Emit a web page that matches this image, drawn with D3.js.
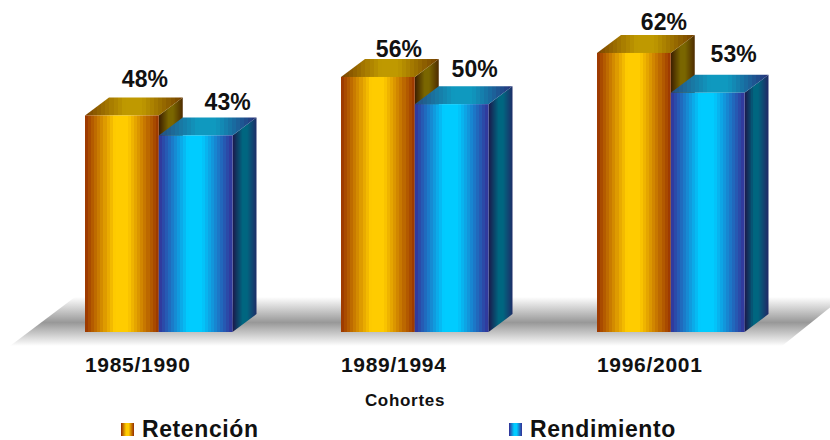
<!DOCTYPE html>
<html>
<head>
<meta charset="utf-8">
<script src="https://cdn.jsdelivr.net/npm/d3@7"></script>
<style>
  html, body { margin: 0; background: #fff; }
  text { font-family: "Liberation Sans", Arial, sans-serif; font-weight: bold; fill: #111; }
</style>
</head>
<body>
<div id="chart"></div>
<script>
const categories = ['1985/1990', '1989/1994', '1996/2001']
const seriesNames = ['Retención', 'Rendimiento']
const retencion = [47.8, 56.3, 61.6]
const rendimiento = [43.4, 50.3, 52.8]

const WIDTH = 830
const HEIGHT = 440
const BASE_Y = 332
const DEPTH = { X: 24, Y: 18 }

const svg = d3.select('#chart').append('svg')
    .attr('width', WIDTH)
    .attr('height', HEIGHT)
    .style('display', 'block')

const defs = svg.append('defs')

// banded gradient, the reference has visible colour steps
function bandedGradient(id, edgeLeft, mid, edgeRight) {
    const grad = defs.append('linearGradient').attr('id', id)
    const steps = 24
    const colorAt = d3.scaleLinear().domain([0, 0.4, 0.58, 1]).range([edgeLeft, mid, mid, edgeRight])
        .interpolate(d3.interpolateRgb)
    for (let i = 0; i < steps; i++) {
        const c = colorAt((i + 0.5) / steps)
        grad.append('stop').attr('offset', i / steps).attr('stop-color', c)
        grad.append('stop').attr('offset', (i + 1) / steps).attr('stop-color', c)
    }
}

bandedGradient('orangeFront', '#993300', '#ffcc00', '#993300')
bandedGradient('orangeTop', '#7a4400', '#bf9900', '#734000')
bandedGradient('orangeSide', '#3d1f00', '#7a6600', '#4d2a00')
bandedGradient('blueFront', '#333399', '#00ccff', '#333399')
bandedGradient('blueTop', '#264d80', '#0f99bf', '#26337a')
bandedGradient('blueSide', '#1a1a4d', '#006680', '#1f2a66')

const floorGrad = defs.append('linearGradient')
    .attr('id', 'floor')
    .attr('x1', 0).attr('x2', 0).attr('y1', 0).attr('y2', 1)
floorGrad.selectAll('stop')
    .data([[0, '#ffffff'], [0.52, '#989898'], [1, '#ffffff']])
    .join('stop')
    .attr('offset', d => d[0])
    .attr('stop-color', d => d[1])

// floor
svg.append('path')
    .attr('d', d3.line()([[10, 346], [75, 297], [843, 297], [782, 346]]) + 'Z')
    .attr('fill', 'url(#floor)')

const x0 = d3.scaleBand()
    .domain(categories)
    .range([85, 744.5])
    .paddingInner(0.4238)

const x1 = d3.scaleBand()
    .domain(seriesNames)
    .range([0, x0.bandwidth()])

const y = d3.scaleLinear()
    .domain([0, 100])
    .range([BASE_Y, BASE_Y - 453])

const fills = {
    'Retención': ['orangeFront', 'orangeTop', 'orangeSide'],
    'Rendimiento': ['blueFront', 'blueTop', 'blueSide']
}

const rows = []
categories.forEach((c, i) => {
    rows.push({ cat: c, name: seriesNames[0], value: retencion[i] })
    rows.push({ cat: c, name: seriesNames[1], value: rendimiento[i] })
})

const bars = svg.selectAll('g.bar')
    .data(rows)
    .join('g')
    .attr('class', 'bar')

const line = d3.line()

// side
bars.append('path')
    .attr('d', d => {
        const r = x0(d.cat) + x1(d.name) + x1.bandwidth()
        return line([[r, y(d.value)], [r + DEPTH.X, y(d.value) - DEPTH.Y], [r + DEPTH.X, BASE_Y - DEPTH.Y], [r, BASE_Y]]) + 'Z'
    })
    .attr('fill', d => `url(#${fills[d.name][2]})`)

// top
bars.append('path')
    .attr('d', d => {
        const l = x0(d.cat) + x1(d.name)
        const r = l + x1.bandwidth()
        const t = y(d.value)
        return line([[l, t], [l + DEPTH.X, t - DEPTH.Y], [r + DEPTH.X, t - DEPTH.Y], [r, t]]) + 'Z'
    })
    .attr('fill', d => `url(#${fills[d.name][1]})`)

// front
bars.append('rect')
    .attr('x', d => x0(d.cat) + x1(d.name))
    .attr('y', d => y(d.value))
    .attr('width', x1.bandwidth())
    .attr('height', d => BASE_Y - y(d.value))
    .attr('fill', d => `url(#${fills[d.name][0]})`)

// the labels were placed by hand in the original, so each has its own nudge
const labelNudge = [[23, -28], [32, -25], [21, -20], [23, -27], [30, -23], [26, -31]]

svg.selectAll('text.value')
    .data(rows)
    .join('text')
    .attr('class', 'value')
    .attr('x', (d, i) => x0(d.cat) + x1(d.name) + x1.bandwidth() / 2 + labelNudge[i][0])
    .attr('y', (d, i) => y(d.value) + labelNudge[i][1])
    .attr('text-anchor', 'middle')
    .attr('font-size', 23)
    .text(d => d3.format('.0f')(d.value) + '%')

// category axis
const xAxis = svg.append('g')
    .attr('transform', `translate(-21, 372)`)
    .call(d3.axisBottom(x0).tickSize(0).tickPadding(0))
xAxis.select('.domain').remove()
xAxis.selectAll('text')
    .attr('dy', 0)
    .attr('y', 0)
    .attr('font-size', 21)
    .style('letter-spacing', '0.7px')
    .style('font-family', '"Liberation Sans", Arial, sans-serif')

svg.append('text')
    .attr('x', 405)
    .attr('y', 406)
    .attr('text-anchor', 'middle')
    .attr('font-size', 17)
    .attr('letter-spacing', '0.7px')
    .text('Cohortes')

// legend
const legendX = d3.scaleOrdinal().domain(seriesNames).range([121, 509])

const legend = svg.selectAll('g.legend')
    .data(seriesNames)
    .join('g')
    .attr('class', 'legend')
    .attr('transform', d => `translate(${legendX(d)}, 423)`)

legend.append('rect')
    .attr('width', 13)
    .attr('height', 13)
    .attr('fill', d => `url(#${fills[d][0]})`)

legend.append('text')
    .attr('x', 21)
    .attr('y', 13.5)
    .attr('font-size', 23)
    .attr('letter-spacing', '0.6px')
    .text(d => d)
</script>
</body>
</html>
